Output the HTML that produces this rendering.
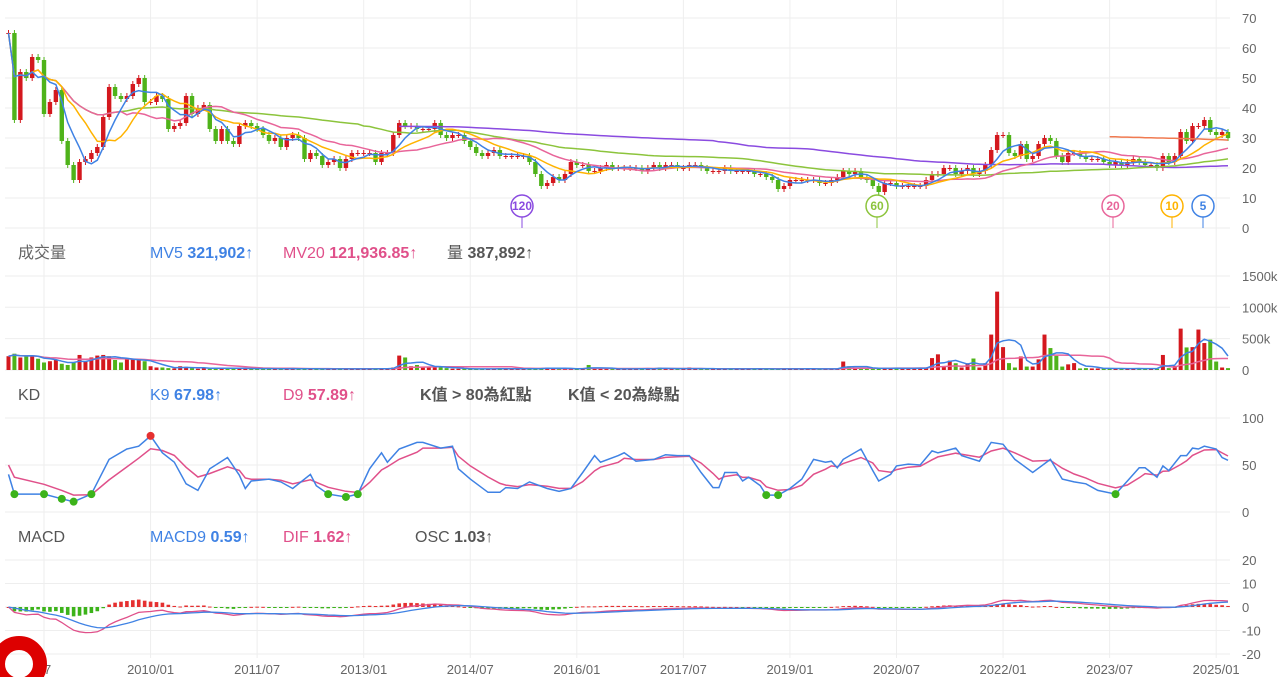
<!DOCTYPE html>
<html><head><meta charset="utf-8">
<style>
html,body{margin:0;padding:0;background:#fff;width:1280px;height:677px;overflow:hidden}
svg{display:block;font-family:"Liberation Sans","Noto Sans CJK TC",sans-serif}
.ax{font-size:13px;fill:#666}
.hd{font-size:16px}
</style></head>
<body>
<svg id="chart" width="1280" height="677" viewBox="0 0 1280 677" xmlns="http://www.w3.org/2000/svg">
  <defs>
    <clipPath id="cpPrice"><rect x="0" y="0" width="1232" height="229"/></clipPath>
    <clipPath id="cpVol"><rect x="0" y="270" width="1232" height="101"/></clipPath>
    <clipPath id="cpKD"><rect x="0" y="405" width="1232" height="112"/></clipPath>
    <clipPath id="cpMacd"><rect x="0" y="555" width="1232" height="103"/></clipPath>
  </defs>
  <g id="grid"></g>
  <g id="axes"></g>
  <g id="marks"></g>

  <g class="hd">
    <text x="18" y="258" fill="#666">成交量</text>
    <text x="150" y="258" fill="#3f82e4">MV5 <tspan font-weight="bold">321,902</tspan>↑</text>
    <text x="283" y="258" fill="#e0508a">MV20 <tspan font-weight="bold">121,936.85</tspan>↑</text>
    <text x="447" y="258" fill="#555">量 <tspan font-weight="bold">387,892</tspan>↑</text>
  </g>
  <g class="hd">
    <text x="18" y="400" fill="#555">KD</text>
    <text x="150" y="400" fill="#3f82e4">K9 <tspan font-weight="bold">67.98</tspan>↑</text>
    <text x="283" y="400" fill="#e0508a">D9 <tspan font-weight="bold">57.89</tspan>↑</text>
    <text x="420" y="400" fill="#555" font-weight="bold">K值 &gt; 80為紅點</text>
    <text x="568" y="400" fill="#555" font-weight="bold">K值 &lt; 20為綠點</text>
  </g>
  <g class="hd">
    <text x="18" y="542" fill="#555">MACD</text>
    <text x="150" y="542" fill="#3f82e4">MACD9 <tspan font-weight="bold">0.59</tspan>↑</text>
    <text x="283" y="542" fill="#e0508a">DIF <tspan font-weight="bold">1.62</tspan>↑</text>
    <text x="415" y="542" fill="#555">OSC <tspan font-weight="bold">1.03</tspan>↑</text>
  </g>

  <g font-size="12" font-weight="bold" text-anchor="middle">
    <g><line x1="522" y1="217" x2="522" y2="228" stroke="#8a4be0"/><circle cx="522" cy="206" r="11" fill="#fff" stroke="#8a4be0" stroke-width="1.5"/><text x="522" y="210" fill="#8a4be0">120</text></g>
    <g><line x1="877" y1="217" x2="877" y2="228" stroke="#8cc43c"/><circle cx="877" cy="206" r="11" fill="#fff" stroke="#8cc43c" stroke-width="1.5"/><text x="877" y="210" fill="#8cc43c">60</text></g>
    <g><line x1="1113" y1="217" x2="1113" y2="228" stroke="#e8659a"/><circle cx="1113" cy="206" r="11" fill="#fff" stroke="#e8659a" stroke-width="1.5"/><text x="1113" y="210" fill="#e8659a">20</text></g>
    <g><line x1="1172" y1="217" x2="1172" y2="228" stroke="#ffb300"/><circle cx="1172" cy="206" r="11" fill="#fff" stroke="#ffb300" stroke-width="1.5"/><text x="1172" y="210" fill="#ffb300">10</text></g>
    <g><line x1="1203" y1="217" x2="1203" y2="228" stroke="#3f82e4"/><circle cx="1203" cy="206" r="11" fill="#fff" stroke="#3f82e4" stroke-width="1.5"/><text x="1203" y="210" fill="#3f82e4">5</text></g>
  </g>
  <circle cx="19" cy="664" r="21" fill="none" stroke="#dd0000" stroke-width="14"/>
</svg>
<script>
// ---- data ----
const closes = [65,36,52,50,57,56,38,42,46,29,21,16,
22,23,25,27,37,47,44,43,44,48,50,42,
42,44,43,33,34,35,44,38,40,41,33,29,
33,29,28,34,35,34,33,31,29,30,27,30,
31,30,23,25,24,21,22,23,20,23,25,25,
25,25,22,25,25,31,35,34,34,33,33,33,
35,31,30,31,31,29,27,25,24,25,26,24,
24,24,24,24,22,18,14,15,17,16,18,22,
21,21,19,19,20,21,20,20,20,20,20,
19,20,21,20,21,21,20,20,21,21,
20,19,19,19,20,19,19,19,19,18,
18,17,16,13,14,16,16,16,16,16,
15,15,16,17,19,18,19,17,16,14,
12,15,15,14,14,14,14,14,16,18,
18,20,20,18,19,20,18,19,21,26,
31,31,25,24,28,23,24,28,30,29,
24,22,25,25,24,23,23,23,22,21,
22,21,22,23,22,21,21,20,24,22,
24,32,29,34,34,36,32,31,32,30];
const volumes = [220,260,200,220,230,180,120,140,160,100,80,120,240,140,200,230,240,220,160,120,190,180,160,140,60,40,
40,30,25,60,50,30,20,25,20,40,30,25,20,30,20,25,20,20,30,20,15,20,25,20,15,15,20,15,20,15,15,20,15,20,15,20,15,25,30,40,
230,200,60,80,50,40,60,40,30,20,
20,20,15,15,20,20,15,30,20,20,15,20,20,25,30,40,30,20,15,20,20,25,80,20,20,15,15,20,20,15,20,
20,25,20,40,20,15,20,20,40,20,15,15,20,20,15,15,20,20,20,15,20,15,15,15,20,25,15,15,20,20,15,20,15,20,
135,60,40,20,20,30,25,30,25,30,20,25,30,30,40,
190,250,65,150,108,40,108,183,40,108,565,1250,365,110,40,215,55,55,170,565,350,225,55,90,110,
25,30,25,25,25,20,25,25,20,25,25,20,25,20,
240,30,65,660,360,365,645,430,485,135,40,30];
// K9 readings (month index, value)
const kIdx = [0,1,6,9,11,14,17,20,22,24,26,28,30,32,34,37,39,40,41,44,46,48,51,52,54,57,59,61,63,64,66,69,70,73,75,76,78,81,83,84,86,88,91,93,95,97,99,100,103,104,106,109,111,113,115,117,119,120,121,123,124,125,127,128,130,132,134,136,138,139,140,141,144,146,147,149,150,152,154,156,157,160,161,164,166,168,170,173,176,178,180,182,184,187,189,191,192,194,195,196,198,199,200,201,202,204,205,206];
const kVal = [40,19,19,14,11,19,56,67,70,81,63,53,30,23,46,58,39,25,33,35,32,25,40,28,19,16,19,46,63,53,67,74,74,68,70,46,35,21,21,26,25,32,25,22,25,42,60,53,60,63,54,56,61,60,60,42,26,26,42,42,33,37,28,18,18,25,35,56,53,54,47,56,67,44,33,40,49,51,50,65,63,68,60,54,74,72,56,42,56,35,32,30,23,19,33,47,47,37,49,44,60,60,68,67,70,67,58,55];
const avgLineStart = 186;
const avgLine = [30.4,30.4,30.3,30.3,30.2,30.2,30.1,30.1,30.0,30.0,29.9,29.9,29.8,29.8,29.7,29.7,29.6,29.5,29.5,29.4,29.3];
const xTickLabels = ["07","2010/01","2011/07","2013/01","2014/07","2016/01","2017/07","2019/01","2020/07","2022/01","2023/07","2025/01"];
const xTickIndex = [6,24,42,60,78,96,114,132,150,168,186,204];
const priceTicks = [0,10,20,30,40,50,60,70];
const volTicks = [0,500,1000,1500];
const kdTicks = [0,50,100];
const macdTicks = [-20,-10,0,10,20];

// ---- scales ----
const X = i => 8.5 + 5.92*i;
const YP = v => 228 - 3*v;
const YV = v => 370 - 0.0627*v;
const YK = v => 512 - 0.94*v;
const YM = v => 607 - 2.35*v;
const NS = "http://www.w3.org/2000/svg";
function mk(tag, attrs, parent){const e=document.createElementNS(NS,tag);for(const k in attrs)e.setAttribute(k,attrs[k]);parent.appendChild(e);return e;}
const grid=document.getElementById('grid'), axes=document.getElementById('axes'), marks=document.getElementById('marks');

xTickIndex.forEach((ix,j)=>{
  const l=mk('line',{x1:X(ix),x2:X(ix),y1:0,y2:658,stroke:'#eeeeee'},grid);
  
  
  const t=mk('text',{x:X(ix),y:674,'text-anchor':'middle',class:'ax'},axes);
  t.textContent=xTickLabels[j];
  
  
});
function hticks(ticks,Y,fmt){ticks.forEach(v=>{
  const l=mk('line',{x1:5,x2:1230,y1:Y(v),y2:Y(v),stroke:'#eeeeee'},grid);
  
  
  const t=mk('text',{x:1242,y:Y(v)+5,class:'ax'},axes);
  t.textContent=fmt(v);
  
  
});}
hticks(priceTicks,YP,v=>v);
hticks(volTicks,YV,v=>v===0?'0':v+'k');
hticks(kdTicks,YK,v=>v);
hticks(macdTicks,YM,v=>v);

const N=closes.length;
const opens=closes.map((c,i)=>i===0?c:closes[i-1]);
const highs=closes.map((c,i)=>Math.max(c,opens[i])+1);
const lows=closes.map((c,i)=>Math.min(c,opens[i])-1);
const RED='#d4181e', GREEN='#4fb31a';

const gC=mk('g',{'clip-path':'url(#cpPrice)'},marks);


for(let i=0;i<N;i++){
  const up=closes[i]>=opens[i], col=up?RED:GREEN, x=X(i);
  const w=mk('line',{x1:x,x2:x,y1:YP(highs[i]),y2:YP(lows[i]),stroke:col,'stroke-width':1},gC);
  
  
  const top=YP(Math.max(closes[i],opens[i])), bot=YP(Math.min(closes[i],opens[i]));
  const r=mk('rect',{x:x-2.2,y:top,width:4.4,height:Math.max(1,bot-top),fill:col},gC);
  
  
}
function ma(arr,n){return arr.map((_,i)=>{const s=Math.max(0,i-n+1);let t=0;for(let k=s;k<=i;k++)t+=arr[k];return t/(i-s+1);});}
function line(vals,Y,col,start,parent,name,w){
  let d='';for(let i=start;i<vals.length;i++)d+=(i===start?'M':'L')+X(i).toFixed(1)+','+Y(vals[i]).toFixed(1);
  const p=mk('path',{d:d,fill:'none',stroke:col,'stroke-width':w||1.5},parent);
  
  
  return p;
}
line(ma(closes,120),YP,'#8a4be0',66,gC,'ma120-line');
line(ma(closes,60),YP,'#8cc43c',6,gC,'ma60-line');
line(ma(closes,20),YP,'#e8659a',0,gC,'ma20-line');
line(ma(closes,10),YP,'#ffb300',0,gC,'ma10-line');
line(ma(closes,5),YP,'#3f82e4',0,gC,'ma5-line');
{let d='';avgLine.forEach((v,k)=>{d+=(k?'L':'M')+X(avgLineStart+k)+','+YP(v);});
 const p=mk('path',{d:d,fill:'none',stroke:'#f07a50','stroke-width':1.5},gC);
 
 }

const gV=mk('g',{'clip-path':'url(#cpVol)'},marks);


for(let i=0;i<N;i++){
  const col=closes[i]>=opens[i]?RED:GREEN;
  const r=mk('rect',{x:X(i)-2,y:YV(volumes[i]),width:4,height:370-YV(volumes[i]),fill:col},gV);
  
  
}
line(ma(volumes,20),YV,'#e8659a',0,gV,'mv20-line');
line(ma(volumes,5),YV,'#3f82e4',0,gV,'mv5-line');

// KD from readings; D smoothed from K
const dVal=[];kVal.forEach((k,j)=>dVal.push(j?dVal[j-1]+0.42*(k-dVal[j-1]):k+10));
const gK=mk('g',{'clip-path':'url(#cpKD)'},marks);


function sparse(vals,col,name){
  let d='';vals.forEach((v,j)=>{d+=(j?'L':'M')+X(kIdx[j]).toFixed(1)+','+YK(v).toFixed(1);});
  const p=mk('path',{d:d,fill:'none',stroke:col,'stroke-width':1.5},gK);
  
  
}
sparse(dVal,'#e0508a','d9-line');
sparse(kVal,'#3f82e4','k9-line');
kVal.forEach((k,j)=>{
  if(k>80||k<20){
    const c=mk('circle',{cx:X(kIdx[j]),cy:YK(k),r:4,fill:k>80?'#e53030':'#3cb31a'},gK);
    
    
  }
});

function ema(arr,n){const a=2/(n+1);const o=[];arr.forEach((v,i)=>o.push(i?o[i-1]+a*(v-o[i-1]):v));return o;}
const e12=ema(closes,12), e26=ema(closes,26);
const DIF=e12.map((v,i)=>v-e26[i]);
const SIG=ema(DIF,9);
const OSC=DIF.map((v,i)=>v-SIG[i]);
const gM=mk('g',{'clip-path':'url(#cpMacd)'},marks);


for(let i=0;i<N;i++){
  const y0=YM(0),y1=YM(OSC[i]);
  const r=mk('rect',{x:X(i)-1.8,y:Math.min(y0,y1),width:3.6,height:Math.max(1,Math.abs(y1-y0)),fill:OSC[i]>=0?'#e53030':'#3cb31a'},gM);
  
  
}
line(DIF,YM,'#e0508a',0,gM,'dif-line',1.3);
line(SIG,YM,'#3f82e4',0,gM,'macd9-line',1.3);
</script>
</body></html>
